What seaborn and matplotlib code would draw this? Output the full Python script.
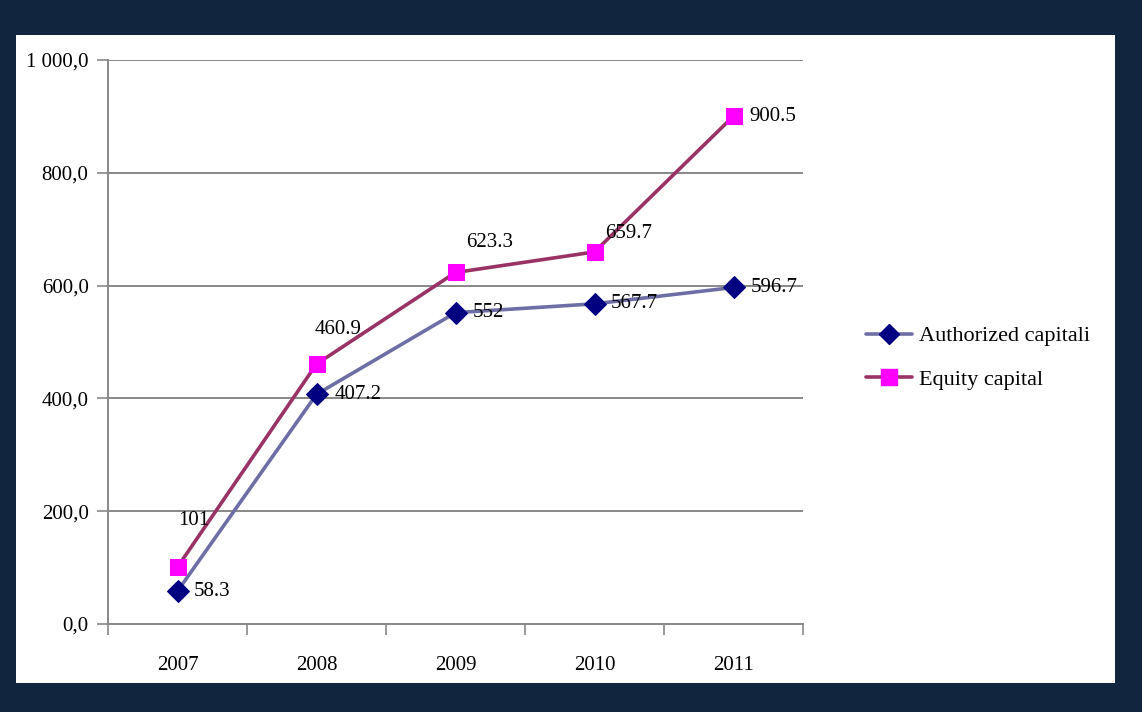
import matplotlib
matplotlib.use("Agg")
import matplotlib.pyplot as plt
import matplotlib.patches as mpatches
from matplotlib.lines import Line2D
from matplotlib.ticker import FixedLocator, FuncFormatter
import seaborn as sns
import pandas as pd

years = ["2007", "2008", "2009", "2010", "2011"]
authorized = [58.3, 407.2, 552, 567.7, 596.7]
equity = [101, 460.9, 623.3, 659.7, 900.5]
authorized_labels = ["58.3", "407.2", "552", "567.7", "596.7"]
equity_labels = ["101", "460.9", "623.3", "659.7", "900.5"]
series_names = ["Authorized capitali", "Equity capital"]
y_ticks = [0, 200, 400, 600, 800, 1000]

sns.set_theme(style="white")
plt.rcParams["font.family"] = ["Liberation Serif", "DejaVu Serif"]
plt.rcParams["text.color"] = "black"

navy = "#12253f"
line_colors = {"Authorized capitali": "#6e6ea6", "Equity capital": "#993366"}
marker_colors = {"Authorized capitali": "#000080", "Equity capital": "#ff00ff"}
marker_shapes = {"Authorized capitali": "D", "Equity capital": "s"}
marker_sizes = {"Authorized capitali": 11, "Equity capital": 12}

df = pd.DataFrame({
    "pos": list(range(len(years))) * 2,
    "value": authorized + equity,
    "series": [series_names[0]] * len(years) + [series_names[1]] * len(years),
})

fig = plt.figure(figsize=(11.42, 7.12), dpi=100, facecolor=navy)
panel = mpatches.Rectangle((16 / 1142, 29 / 712), 1099 / 1142, 648 / 712,
                           transform=fig.transFigure, facecolor="white",
                           edgecolor="none", zorder=-5)
fig.add_artist(panel)
ax = fig.add_axes([108 / 1142, 88 / 712, 695 / 1142, 564 / 712])
ax.set_facecolor("white")

sns.lineplot(data=df, x="pos", y="value", hue="series", style="series",
             palette=line_colors, markers=marker_shapes, dashes=False,
             linewidth=2.6, markersize=11, legend=False, ax=ax, zorder=3)

for line, name in zip(ax.get_lines(), series_names):
    line.set_markerfacecolor(marker_colors[name])
    line.set_markeredgecolor(marker_colors[name])
    line.set_markersize(marker_sizes[name])

ax.set_xlim(-0.5, len(years) - 0.5)
ax.set_ylim(0, 1000)
ax.yaxis.set_major_locator(FixedLocator(y_ticks))
ax.yaxis.set_major_formatter(FuncFormatter(
    lambda v, p: (f"{v:,.1f}").replace(",", " ").replace(".", ",")))
ax.set_xticks(range(len(years)))
ax.set_xticklabels(years)
ax.set_xticks([i - 0.5 for i in range(len(years) + 1)], minor=True)
ax.tick_params(axis="x", which="major", length=0, pad=23, labelsize=15, colors="black")
ax.tick_params(axis="x", which="minor", length=8, width=1.2, color="#888888",
               direction="out", bottom=True)
ax.tick_params(axis="y", which="major", length=8, width=1.2, color="#888888",
               direction="out", left=True, pad=6, labelsize=15, labelcolor="black")
ax.grid(axis="y", color="#888888", linewidth=1.4)
ax.grid(axis="x", visible=False)
for side in ["top", "right"]:
    ax.spines[side].set_visible(False)
for side in ["left", "bottom"]:
    ax.spines[side].set_color("#888888")
    ax.spines[side].set_linewidth(1.4)
ax.set_xlabel("")
ax.set_ylabel("")

# value labels
auth_offsets = [(16, 0), (18, 0), (17, 0), (16, 0), (17, 0)]
eq_offsets = [(16, -47), (22, -35), (34, -30), (34, -18), (16, 0)]
for i, (v, t) in enumerate(zip(authorized, authorized_labels)):
    dx, dy = auth_offsets[i]
    ax.annotate(t, (i, v), xytext=(dx, -dy), textcoords="offset pixels",
                ha="left", va="center", fontsize=15, color="black", zorder=5)
for i, (v, t) in enumerate(zip(equity, equity_labels)):
    dx, dy = eq_offsets[i]
    ha = "left" if i == len(years) - 1 else "center"
    ax.annotate(t, (i, v), xytext=(dx, -dy), textcoords="offset pixels",
                ha=ha, va="center", fontsize=15, color="black", zorder=5)

handles = [Line2D([0], [0], color=line_colors[n], linewidth=2.6,
                  marker=marker_shapes[n], markersize=marker_sizes[n] - 1,
                  markerfacecolor=marker_colors[n], markeredgecolor=marker_colors[n])
           for n in series_names]
fig.legend(handles, series_names, loc="center left",
           bbox_to_anchor=(846 / 1142, 1 - 358 / 712), frameon=False,
           fontsize=16, handlelength=2.05, handletextpad=0.32, labelspacing=1.05)

fig.savefig("out.png", dpi=100, facecolor=navy)
